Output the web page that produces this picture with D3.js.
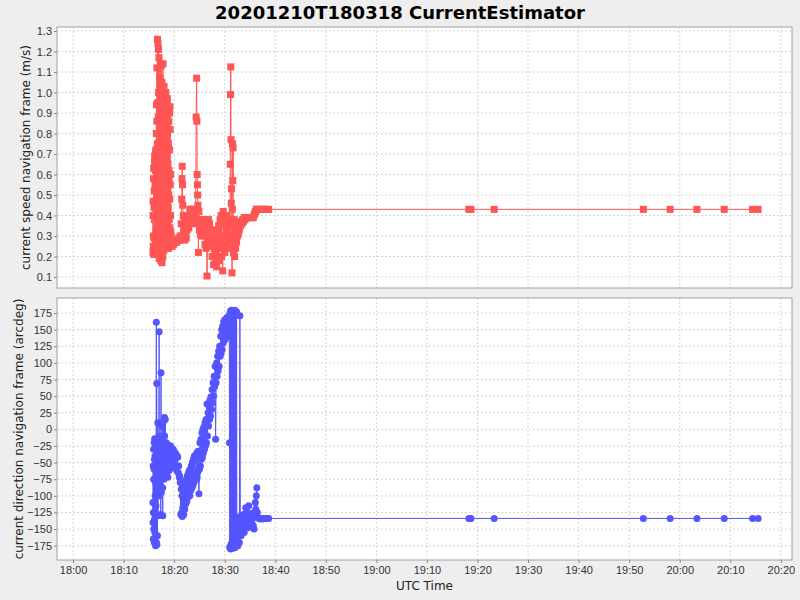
<!DOCTYPE html>
<html>
<head>
<meta charset="utf-8">
<script src="https://cdn.jsdelivr.net/npm/d3@7"></script>
<style>
  body { margin: 0; background: #eeeeee; }
  svg { display: block; font-family: "DejaVu Sans", sans-serif; }
  .tick text { fill: #333; font-size: 11px; }
  .tick line { stroke: #888; }
  .domain { display: none; }
  .grid line { stroke: #d6d6d6; stroke-dasharray: 2,2; }
</style>
</head>
<body>
<svg id="chart" width="800" height="600"></svg>
<script>
// minutes after 18:00 UTC, 2020-12-10
const times = [
  15.800,15.825,15.850,15.875,15.900,15.925,15.950,15.975,
  16.000,16.025,16.050,16.075,16.100,16.125,16.150,16.175,
  16.200,16.225,16.250,16.275,16.300,16.325,16.350,16.375,
  16.400,16.425,16.450,16.475,16.500,16.525,16.550,16.575,
  16.600,16.625,16.650,16.675,16.700,16.725,16.750,16.775,
  16.800,16.825,16.850,16.875,16.900,16.925,16.950,16.975,
  17.000,17.025,17.050,17.075,17.100,17.125,17.150,17.175,
  17.200,17.225,17.250,17.275,17.300,17.325,17.350,17.375,
  17.400,17.425,17.450,17.475,17.500,17.525,17.550,17.575,
  17.600,17.625,17.650,17.675,17.700,17.725,17.750,17.775,
  17.800,17.825,17.850,17.875,17.900,17.925,17.950,17.975,
  18.000,18.025,18.050,18.075,18.100,18.125,18.150,18.175,
  18.200,18.225,18.250,18.275,18.300,18.325,18.350,18.375,
  18.400,18.425,18.450,18.475,18.500,18.525,18.550,18.575,
  18.600,18.625,18.650,18.675,18.700,18.725,18.750,18.775,
  18.800,18.825,18.850,18.875,18.900,18.925,18.950,18.975,
  19.000,19.025,19.050,19.075,19.100,19.125,19.150,19.175,
  19.200,19.225,19.250,19.275,19.300,19.325,19.350,19.375,
  19.400,
  19.5,19.6,19.7,19.8,19.9,20.0,20.1,20.2,20.3,20.4,
  20.5,20.6,20.7,20.8,20.9,21.0,21.1,21.2,
  21.30,21.40,21.50,21.55,21.60,21.65,21.70,21.80,21.90,22.00,
  22.10,22.20,22.30,22.40,22.50,22.60,22.70,22.80,22.90,23.00,
  23.10,23.20,23.30,23.40,23.50,23.60,23.70,23.80,23.90,24.00,
  24.10,
  24.25,24.35,24.45,24.50,24.55,24.60,24.65,24.70,24.80,24.90,
  25.00,25.10,25.20,25.30,25.40,25.50,25.60,25.70,25.80,25.90,
  26.00,26.10,26.20,26.30,26.40,26.50,26.60,26.70,26.80,26.90,
  27.00,27.10,27.20,27.30,27.40,
  27.5,27.6,27.7,27.8,27.9,28.0,28.1,28.2,28.3,28.4,
  28.5,28.6,28.7,28.8,28.9,29.0,29.1,29.2,29.3,29.4,
  29.5,29.6,29.7,29.8,29.9,30.0,30.1,30.2,30.3,30.4,
  30.5,30.6,30.7,30.8,30.9,
  30.95,31.00,31.05,31.10,31.15,31.20,31.25,31.30,31.35,31.40,
  31.45,31.50,31.55,31.60,31.65,31.70,31.75,31.80,31.85,31.90,
  31.95,32.00,32.05,32.10,32.15,32.20,32.25,32.30,32.35,32.40,
  32.50,32.60,32.70,32.80,32.90,33.00,33.10,33.25,33.40,33.55,
  33.70,33.85,34.00,34.15,34.30,34.45,34.60,34.75,34.90,35.05,
  35.20,35.35,35.50,35.65,35.80,35.95,36.05,36.15,36.25,36.35,
  36.45,
  36.6,36.9,37.2,37.5,37.8,38.1,38.4,38.7,
  78.3,78.7,83.3,112.8,118.1,123.4,128.8,134.4,135.5
];

// current speed (m/s)
const speed = [
  0.22,0.40,0.47,0.25,0.30,0.58,0.63,0.23,
  0.21,0.44,0.52,0.29,0.38,0.66,0.69,0.24,
  0.24,0.55,0.45,0.70,0.62,0.27,0.30,0.72,
  0.71,0.33,0.26,0.80,0.94,0.42,0.35,0.86,
  1.12,0.50,0.22,0.75,1.26,0.95,0.48,0.30,
  1.24,0.64,0.31,0.88,1.21,1.00,0.60,0.28,
  1.17,0.70,0.19,0.52,1.07,0.92,0.85,0.36,
  0.24,0.66,1.14,0.83,0.40,0.20,0.97,0.74,
  0.18,0.47,1.13,0.90,0.55,0.26,0.88,1.05,
  0.17,0.62,1.02,0.80,0.72,0.38,0.20,0.55,
  1.14,0.95,0.45,0.29,0.95,0.70,0.23,0.50,
  1.03,0.85,0.66,0.32,0.30,0.75,0.98,0.60,
  0.42,0.27,0.84,0.96,0.25,0.48,1.00,0.80,
  0.58,0.33,0.92,0.70,0.27,0.55,0.78,0.95,
  0.35,0.24,0.97,0.80,0.26,0.42,0.90,0.65,
  0.44,0.28,0.93,0.75,0.24,0.50,0.86,0.62,
  0.58,0.38,0.25,0.72,0.90,0.48,0.34,0.93,
  0.82,0.55,0.26,0.40,0.60,0.32,0.25,0.30,
  0.27,
  0.25,0.25,0.26,0.26,0.26,0.27,0.27,0.27,0.27,0.28,
  0.27,0.28,0.28,0.28,0.29,0.28,0.29,0.30,
  0.30,0.36,0.48,0.58,0.64,0.55,0.45,0.40,0.33,0.37,
  0.28,0.35,0.31,0.29,0.38,0.33,0.36,0.40,0.34,0.38,
  0.43,0.36,0.40,0.43,0.38,0.43,0.41,0.43,0.37,0.43,
  0.40,
  0.36,0.88,1.07,0.86,0.60,0.55,0.50,0.45,0.22,0.42,
  0.33,0.38,0.31,0.36,0.33,0.30,0.38,0.34,0.31,0.36,
  0.30,0.26,0.35,0.24,0.38,0.105,0.26,0.33,0.38,0.30,
  0.36,0.32,0.25,0.28,0.26,
  0.20,0.26,0.33,0.16,0.24,0.28,0.18,0.22,0.30,0.15,
  0.26,0.20,0.32,0.35,0.18,0.28,0.38,0.24,0.40,0.20,
  0.30,0.13,0.42,0.25,0.36,0.22,0.38,0.27,0.33,0.40,
  0.24,0.35,0.28,0.38,0.30,
  0.28,0.24,0.36,0.65,0.99,1.125,0.77,0.46,0.53,0.30,
  0.12,0.43,0.75,0.57,0.73,0.35,0.22,0.31,0.25,0.38,
  0.20,0.34,0.27,0.30,0.24,0.33,0.28,0.31,0.27,0.32,
  0.30,0.33,0.31,0.35,0.33,0.36,0.35,0.37,0.36,0.38,
  0.37,0.39,0.38,0.39,0.39,0.39,0.39,0.39,0.39,0.39,
  0.39,0.39,0.39,0.39,0.40,0.41,0.42,0.42,0.43,0.43,
  0.43,
  0.43,0.43,0.43,0.43,0.43,0.43,0.43,0.43,
  0.43,0.43,0.43,0.43,0.43,0.43,0.43,0.43,0.43
];

// current direction (arcdeg)
const direction = [
  -110,-140,-55,-165,-125,-30,-75,-150,
  -125,-60,-20,-170,-45,-135,-14,-155,
  -165,-40,-100,-45,-80,-175,-30,-60,
  -115,-14,-50,161,-170,-35,69,-25,
  -173,-40,-25,-60,-160,-18,-45,10,
  -130,-20,-65,-35,-62,-100,-28,-50,
  -40,147,-30,-70,-100,-22,-55,-85,
  -28,-60,-85,-15,-45,-10,-128,-70,
  85,-50,-55,-95,-30,-20,-60,-88,
  -68,-40,5,-25,-45,-88,-130,-55,
  -22,-45,-70,12,-30,-40,-62,-75,
  -58,-30,-25,-45,18,-10,-48,-70,
  -35,-55,15,-20,-60,-42,-30,-65,
  -52,-28,-20,-40,-45,-58,-65,-30,
  -28,-50,-35,-50,-38,-62,-72,-25,
  -26,-48,-55,-35,-40,-60,-30,-50,
  -62,-25,-35,-55,-48,-28,-25,-45,
  -58,-35,-40,-25,-30,-55,-52,-38,
  -35,
  -28,-45,-50,-30,-32,-48,-58,-38,-36,-55,
  -62,-40,-42,-65,-55,-72,-70,-80,
  -128,-90,-125,-100,-131,-86,-118,-90,-128,-85,
  -120,-78,-112,-75,-108,-70,-102,-66,-98,-62,
  -100,-60,-92,-55,-88,-50,-85,-45,-80,-40,
  -76,
  -70,-38,-75,-35,-72,-40,-65,-33,-60,-97,
  -60,-20,-55,-15,-45,-5,-42,0,-35,4,
  -30,10,-25,15,-20,38,-10,25,5,35,
  15,45,20,49,30,
  60,40,70,50,80,64,95,-15,70,100,
  80,110,88,118,95,125,110,140,115,150,
  120,155,130,162,140,165,135,160,145,168,
  140,165,150,170,155,
  -20,-178,175,-176,178,-180,177,-172,179,-178,
  176,-175,178,-179,175,-170,178,-177,174,-165,
  179,-178,176,-160,178,-175,172,-150,177,-168,
  -140,-175,-152,-132,-170,171,-145,-160,-138,-150,
  -128,-155,-135,-118,-142,-125,-148,-115,-138,-130,
  -140,-126,-135,-145,-150,-128,-110,-120,-100,-88,
  -125,
  -133,-135,-134,-135,-134,-134,-134,-134,
  -134,-134,-134,-134,-134,-134,-134,-134,-134
];

const speedTicks = [0.1,0.2,0.3,0.4,0.5,0.6,0.7,0.8,0.9,1.0,1.1,1.2,1.3];
const dirTicks = [-175,-150,-125,-100,-75,-50,-25,0,25,50,75,100,125,150,175];
const timeTickMinutes = [0,10,20,30,40,50,60,70,80,90,100,110,120,130,140];

const base = Date.UTC(2020, 11, 10, 18, 0, 0);
const toDate = m => new Date(base + m * 60000);

const rows = times.map((t, i) => ({ t: toDate(t), s: speed[i], d: direction[i] }));

const svg = d3.select('#chart');
const left = 57, right = 792;

const x = d3.scaleUtc()
  .domain([toDate(-3.17), toDate(142.2)])
  .range([left, right]);

const panels = [
  { key: 's', top: 27, bottom: 288, domain: [0.0465, 1.3195], ticks: speedTicks,
    fmt: d3.format('.1f'), color: '#ff5555', shape: 'square',
    label: 'current speed navigation frame (m/s)', labelX: 26 },
  { key: 'd', top: 298, bottom: 560, domain: [-196.5, 197.6], ticks: dirTicks,
    fmt: d3.format('d'), color: '#5555ff', shape: 'circle',
    label: 'current direction navigation frame (arcdeg)', labelX: 19 }
];

panels.forEach(p => {
  const y = d3.scaleLinear().domain(p.domain).range([p.bottom, p.top]);
  const g = svg.append('g');

  g.append('rect')
    .attr('x', left).attr('y', p.top)
    .attr('width', right - left).attr('height', p.bottom - p.top)
    .attr('fill', '#fff');

  // grid
  g.append('g').attr('class', 'grid')
    .selectAll('line').data(timeTickMinutes.map(toDate)).join('line')
    .attr('x1', d => x(d)).attr('x2', d => x(d))
    .attr('y1', p.top).attr('y2', p.bottom);
  g.append('g').attr('class', 'grid')
    .selectAll('line').data(p.ticks).join('line')
    .attr('x1', left).attr('x2', right)
    .attr('y1', d => y(d)).attr('y2', d => y(d));

  g.append('g')
    .attr('transform', `translate(${left},0)`)
    .call(d3.axisLeft(y).tickValues(p.ticks).tickFormat(p.fmt).tickSize(3).tickPadding(2));

  const clipId = 'clip-' + p.key;
  g.append('clipPath').attr('id', clipId)
    .append('rect').attr('x', left).attr('y', p.top)
    .attr('width', right - left).attr('height', p.bottom - p.top);

  const plot = g.append('g').attr('clip-path', `url(#${clipId})`);
  plot.append('path')
    .datum(rows)
    .attr('fill', 'none')
    .attr('stroke', p.color)
    .attr('stroke-width', 1)
    .attr('d', d3.line().x(d => x(d.t)).y(d => y(d[p.key])));

  if (p.shape === 'square') {
    plot.selectAll('rect.mark').data(rows).join('rect')
      .attr('class', 'mark')
      .attr('x', d => x(d.t) - 3.5).attr('y', d => y(d[p.key]) - 3.5)
      .attr('width', 7).attr('height', 7)
      .attr('fill', p.color);
  } else {
    plot.selectAll('circle.mark').data(rows).join('circle')
      .attr('class', 'mark')
      .attr('cx', d => x(d.t)).attr('cy', d => y(d[p.key]))
      .attr('r', 3.5)
      .attr('fill', p.color);
  }

  g.append('rect')
    .attr('x', left).attr('y', p.top)
    .attr('width', right - left).attr('height', p.bottom - p.top)
    .attr('fill', 'none').attr('stroke', '#a0a0a0');

  svg.append('text')
    .attr('transform', `translate(${p.labelX},${(p.top + p.bottom) / 2}) rotate(-90)`)
    .attr('text-anchor', 'middle')
    .attr('dominant-baseline', 'central')
    .attr('font-size', 12)
    .attr('fill', '#222')
    .text(p.label);
});

svg.append('g')
  .attr('transform', 'translate(0,560)')
  .call(d3.axisBottom(x).tickValues(timeTickMinutes.map(toDate))
    .tickFormat(d3.utcFormat('%H:%M')).tickSize(3).tickPadding(3));

svg.append('text')
  .attr('x', (left + right) / 2).attr('y', 590)
  .attr('text-anchor', 'middle')
  .attr('font-size', 12)
  .attr('fill', '#222')
  .text('UTC Time');

svg.append('text')
  .attr('x', 400).attr('y', 19)
  .attr('text-anchor', 'middle')
  .attr('font-size', 18)
  .attr('font-weight', 'bold')
  .attr('fill', '#000')
  .text('20201210T180318 CurrentEstimator');
</script>
</body>
</html>
